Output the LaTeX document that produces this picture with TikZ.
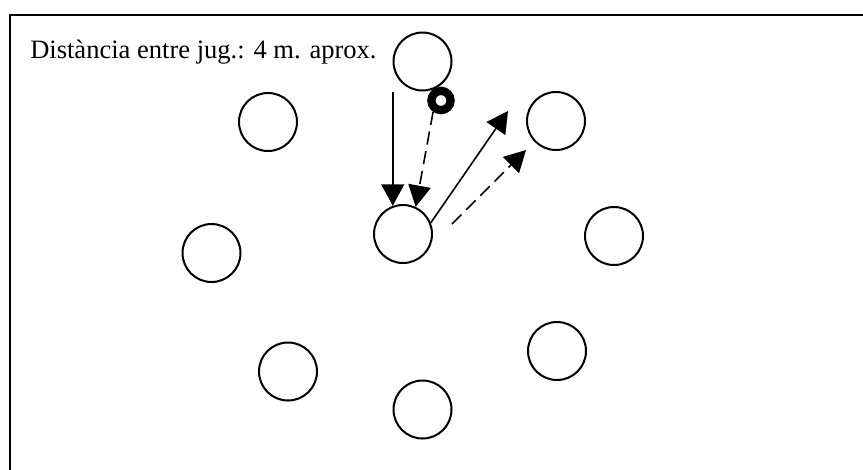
\documentclass[tikz,border=0pt]{standalone}
\usepackage{fontspec}
\setmainfont{Liberation Serif}
\usetikzlibrary{arrows.meta}

\begin{document}
\begin{tikzpicture}[
  x=0.75pt, y=-0.75pt,
  player/.style={draw, circle, line width=1.5pt, minimum size=43.5pt, inner sep=0pt},
  ball/.style={draw, circle, line width=6.2pt, minimum size=14.4pt, inner sep=0pt},
  tip/.style={-{Triangle[length=16pt, width=17pt]}},
  pass/.style={tip, line width=1.2pt},
  run/.style={tip, line width=1.2pt, dash pattern=on 10pt off 5pt},
  lab/.style={font=\fontsize{19.9}{24}\selectfont, anchor=base west, inner sep=0pt}
]
\clip (0,0) rectangle (863,469);
\draw[line width=1.5pt] (10,15) rectangle (900,500);
\node[lab] (title) at (30,58) {Distància entre jug.: 4 m. aprox.};
\foreach \name/\x/\y in {top/422.5/61.5, topl/268/122, topr/556/121, mid/403/234,
  left/211.5/253, right/614/236, botl/288/371.5, botr/557/351, bot/422.5/409.5} {
  \node[player] (\name) at (\x,\y) {};
}
\node[ball] (ball) at (441,100.5) {};
\coordinate (shot) at (508,111);
\coordinate (runfrom) at (452,224);
\coordinate (runto) at (526,150);
\draw[pass] (mid.110 |- top.south) -- (mid.110);
\draw[run] (ball.235) -- (mid.65);
\draw[pass] (mid.22) -- (shot);
\draw[run] (runfrom) -- (runto);
\end{tikzpicture}
\end{document}
